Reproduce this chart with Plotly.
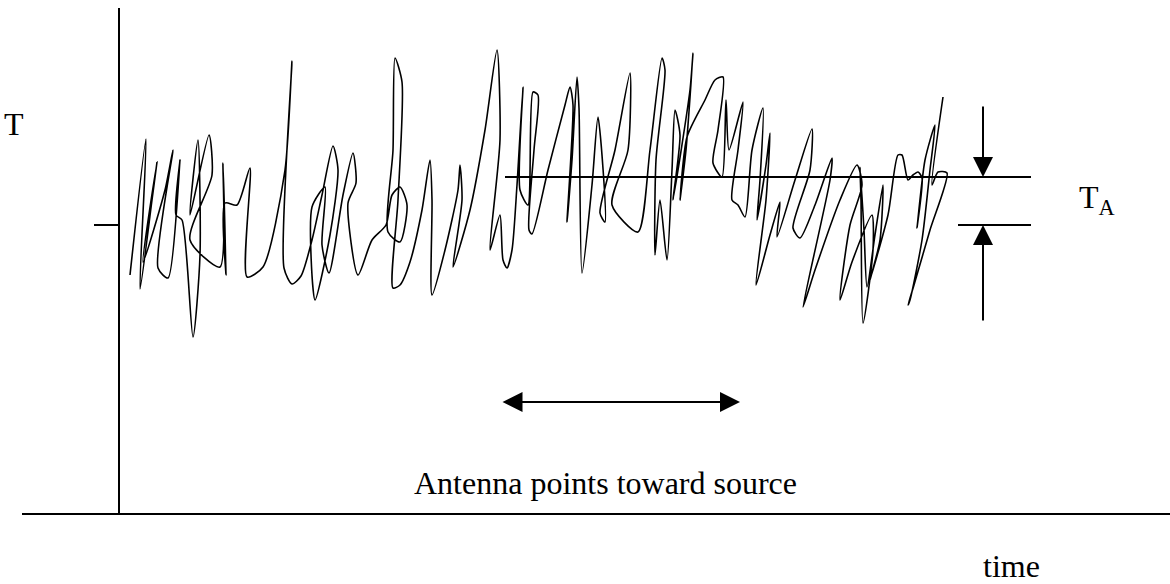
import plotly.graph_objects as go

# Pen trace of the noisy receiver output (time, temperature)
time = [11, 27, 21, 33, 38, 24, 46, 54, 39, 49, 61, 57, 63, 74, 81, 79, 71, 90, 93, 71,
        101, 104, 107, 106, 118, 131, 128, 144, 166, 173, 165, 173, 182, 193, 203, 214, 219, 211, 196, 193,
        206, 203, 210, 224, 234, 237, 229, 239, 253, 267, 273, 281, 288, 281, 269, 274, 276, 283, 279, 274,
        281, 291, 303, 311, 313, 313, 326, 339, 341, 343, 334, 351, 366, 378, 381, 371, 381, 384, 388, 393,
        398, 404, 401, 409, 414, 419, 415, 410, 413, 429, 446, 451, 454, 448, 453, 458, 460, 463, 473, 479,
        486, 481, 496, 511, 509, 493, 519, 531, 543, 546, 537, 536, 541, 548, 553, 556, 561, 554, 571, 574,
        567, 561, 568, 586, 596, 604, 599, 594, 603, 607, 610, 624, 619, 613, 619, 626, 633, 644, 641, 638,
        647, 651, 647, 637, 651, 661, 658, 676, 693, 691, 674, 681, 696, 713, 711, 684, 696, 721, 738, 743,
        731, 721, 733, 753, 754, 744, 742, 741, 745, 748, 756, 764, 761, 751, 769, 779, 783, 789, 794, 799,
        803, 798, 806, 816, 811, 803, 791, 789, 795, 811, 828, 819, 813, 824]
temperature = [238, 374, 224, 313, 351, 251, 323, 363, 245, 235, 353, 298, 293, 176, 258, 373, 298, 378, 338, 273,
               246, 350, 238, 310, 308, 345, 236, 246, 343, 452, 245, 229, 237, 273, 318, 367, 343, 278, 213, 306,
               326, 268, 240, 318, 360, 330, 310, 238, 273, 288, 318, 326, 308, 271, 281, 363, 455, 431, 313, 225,
               228, 251, 303, 353, 313, 218, 263, 323, 348, 313, 246, 303, 383, 463, 373, 263, 298, 253, 245, 263,
               328, 426, 323, 308, 421, 418, 363, 283, 279, 343, 408, 426, 408, 291, 353, 436, 405, 240, 328, 396,
               291, 300, 363, 440, 363, 308, 281, 363, 455, 443, 353, 258, 313, 253, 343, 403, 378, 313, 423, 460,
               363, 313, 376, 413, 433, 436, 383, 350, 336, 413, 363, 411, 363, 313, 308, 296, 363, 405, 333, 293,
               348, 380, 313, 228, 278, 311, 276, 333, 384, 343, 285, 275, 308, 355, 333, 206, 243, 313, 348, 328,
               288, 213, 251, 298, 263, 190, 313, 346, 283, 226, 278, 328, 273, 233, 298, 358, 358, 333, 338, 341,
               335, 285, 353, 388, 343, 273, 213, 208, 228, 283, 340, 341, 328, 416]

# Annotation levels
on_source_level = 336
off_source_level = 288
on_source_span = [386, 912]
off_source_span = [839, 912]
ta_arrow_time = 864
ta_arrow_top = 408
ta_arrow_bottom = 191
pointing_span = [382, 621]
pointing_level = 111

FONT = "Liberation Serif, Times New Roman, serif"

fig = go.Figure()

fig.add_trace(go.Scatter(
    x=time, y=temperature, mode="lines",
    line=dict(color="black", width=1.6, shape="spline", smoothing=0.7, simplify=False),
    hoverinfo="skip", showlegend=False))

fig.add_trace(go.Scatter(
    x=on_source_span, y=[on_source_level, on_source_level], mode="lines",
    line=dict(color="black", width=1.8), hoverinfo="skip", showlegend=False))
fig.add_trace(go.Scatter(
    x=off_source_span, y=[off_source_level, off_source_level], mode="lines",
    line=dict(color="black", width=1.8), hoverinfo="skip", showlegend=False))

arrow_common = dict(text="", showarrow=True, axref="x", ayref="y", xref="x", yref="y",
                    arrowhead=2, arrowsize=2, arrowwidth=2, arrowcolor="black",
                    standoff=0, startstandoff=0)
# T_A arrows
fig.add_annotation(x=ta_arrow_time, y=on_source_level, ax=ta_arrow_time, ay=ta_arrow_top, **arrow_common)
fig.add_annotation(x=ta_arrow_time, y=off_source_level, ax=ta_arrow_time, ay=ta_arrow_bottom, **arrow_common)
# double-headed pointing arrow
fig.add_annotation(x=pointing_span[1], y=pointing_level, ax=pointing_span[0], ay=pointing_level,
                   arrowside="end+start", startarrowhead=2, startarrowsize=2, **arrow_common)

txt_font = dict(family=FONT, size=32, color="black")
fig.add_annotation(x=486, y=30, xref="x", yref="y", text="Antenna points toward source",
                   showarrow=False, font=txt_font, xanchor="center", yanchor="middle")
fig.add_annotation(x=978, y=314, xref="x", yref="y", text="T<sub>A</sub>",
                   showarrow=False, font=txt_font, xanchor="center", yanchor="middle")
fig.add_annotation(x=-0.007, y=0.770, xref="paper", yref="paper", text="T",
                   showarrow=False, font=txt_font, xanchor="center", yanchor="middle")
fig.add_annotation(x=0.8615, y=-0.105, xref="paper", yref="paper", text="time",
                   showarrow=False, font=txt_font, xanchor="center", yanchor="middle")

fig.update_layout(
    width=1170, height=584,
    margin=dict(l=22, r=0, t=8, b=71),
    paper_bgcolor="white", plot_bgcolor="white",
    xaxis=dict(range=[-97, 1051], showgrid=False, zeroline=False, showticklabels=False,
               ticks="", showline=True, linecolor="black", linewidth=2, fixedrange=True),
    yaxis=dict(range=[0, 505], showgrid=False, zeroline=False, anchor="free",
               position=97 / 1148, side="left",
               showline=True, linecolor="black", linewidth=2,
               tickvals=[off_source_level], ticktext=[""], ticks="outside",
               ticklen=24, tickwidth=1.5, tickcolor="black", fixedrange=True),
    showlegend=False,
)

# remove the default page margin so the figure fills the window exactly
fig.write_html("out.html",
               config={"displayModeBar": False, "staticPlot": True},
               post_script="document.body.style.margin='0';document.body.style.overflow='hidden';")
